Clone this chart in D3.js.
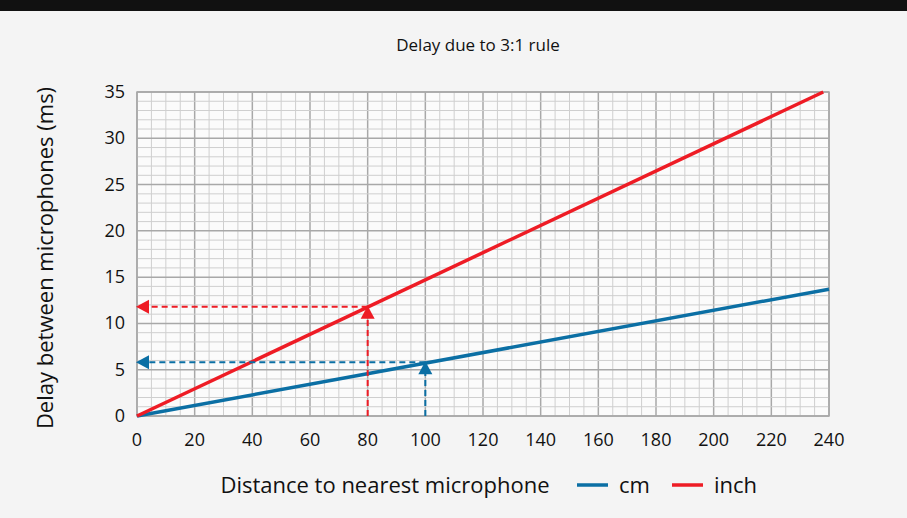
<!DOCTYPE html><html><head><meta charset="utf-8"><script src="https://cdn.jsdelivr.net/npm/d3@7"></script>
<style>body{margin:0;background:#f4f4f4;font-family:"Open Sans",sans-serif}</style></head><body><svg id="c" width="907" height="518"></svg><script>
const seriesNames=["cm","inch"];
const seriesColors=["#0b6fa4","#ee1c25"];
const cmLine=[[0,0],[240,13.7]];
const inchLine=[[0,0],[238,35]];
const readouts=[{s:"inch",x:80,y:11.8},{s:"cm",x:100,y:5.8}];
const xTicks=d3.range(0,241,20), yTicks=d3.range(0,36,5);
const svg=d3.select("#c");
svg.append("rect").attr("width",907).attr("height",11).attr("fill","#111");
const m={l:137,r:829,t:92,b:416};
const x=d3.scaleLinear([0,240],[m.l,m.r]), y=d3.scaleLinear([0,35],[m.b,m.t]);
svg.append("rect").attr("x",m.l).attr("y",m.t).attr("width",m.r-m.l).attr("height",m.b-m.t).attr("fill","#fbfbfb");
const g=svg.append("g");
d3.range(0,241,5).forEach(v=>g.append("line").attr("x1",x(v)).attr("x2",x(v)).attr("y1",m.t).attr("y2",m.b).attr("stroke",v%20?"#cfcfcf":"#a8a8a8").attr("stroke-width",v%20?1:1.5));
d3.range(0,36,1).forEach(v=>g.append("line").attr("y1",y(v)).attr("y2",y(v)).attr("x1",m.l).attr("x2",m.r).attr("stroke",v%5?"#cfcfcf":"#a8a8a8").attr("stroke-width",v%5?1:1.5));
svg.append("rect").attr("x",m.l).attr("y",m.t).attr("width",m.r-m.l).attr("height",m.b-m.t).attr("fill","none").attr("stroke","#a8a8a8").attr("stroke-width",1.5);
svg.selectAll(".xt").data(xTicks).join("text").attr("x",d=>x(d)).attr("y",446).attr("text-anchor","middle").attr("font-size",18).attr("fill","#111").text(d=>d);
svg.selectAll(".yt").data(yTicks).join("text").attr("x",125).attr("y",d=>y(d)+6).attr("text-anchor","end").attr("font-size",18).attr("fill","#111").text(d=>d);
svg.append("text").attr("x",478).attr("y",51).attr("text-anchor","middle").attr("font-size",17).attr("fill","#111").text("Delay due to 3:1 rule");
svg.append("text").attr("transform","translate(53,258) rotate(-90)").attr("text-anchor","middle").attr("font-size",22).attr("fill","#111").text("Delay between microphones (ms)");
svg.append("text").attr("x",385).attr("y",493).attr("text-anchor","middle").attr("font-size",22).attr("fill","#111").text("Distance to nearest microphone");
const line=d3.line().x(d=>x(d[0])).y(d=>y(d[1]));
[cmLine,inchLine].forEach((d,i)=>svg.append("path").attr("d",line(d)).attr("fill","none").attr("stroke",seriesColors[i]).attr("stroke-width",3.5));
readouts.forEach(r=>{const c=seriesColors[seriesNames.indexOf(r.s)];
 svg.append("line").attr("x1",x(r.x)).attr("x2",x(r.x)).attr("y1",m.b).attr("y2",y(r.y)+10).attr("stroke",c).attr("stroke-width",2).attr("stroke-dasharray","6,4");
 svg.append("path").attr("d",`M${x(r.x)},${y(r.y)-1}l-7,13h14z`).attr("fill",c);
 svg.append("line").attr("x1",x(r.x)).attr("x2",x(0)+10).attr("y1",y(r.y)).attr("y2",y(r.y)).attr("stroke",c).attr("stroke-width",2).attr("stroke-dasharray","6,4");
 svg.append("path").attr("d",`M${x(0)-1},${y(r.y)}l13,-7v14z`).attr("fill",c);});
const lg=[[577,"cm"],[672,"inch"]];
lg.forEach((l,i)=>{svg.append("line").attr("x1",l[0]).attr("x2",l[0]+31).attr("y1",485).attr("y2",485).attr("stroke",seriesColors[i]).attr("stroke-width",3.5);
 svg.append("text").attr("x",l[0]+42).attr("y",493).attr("font-size",22).attr("fill","#111").text(l[1]);});
</script></body></html>
